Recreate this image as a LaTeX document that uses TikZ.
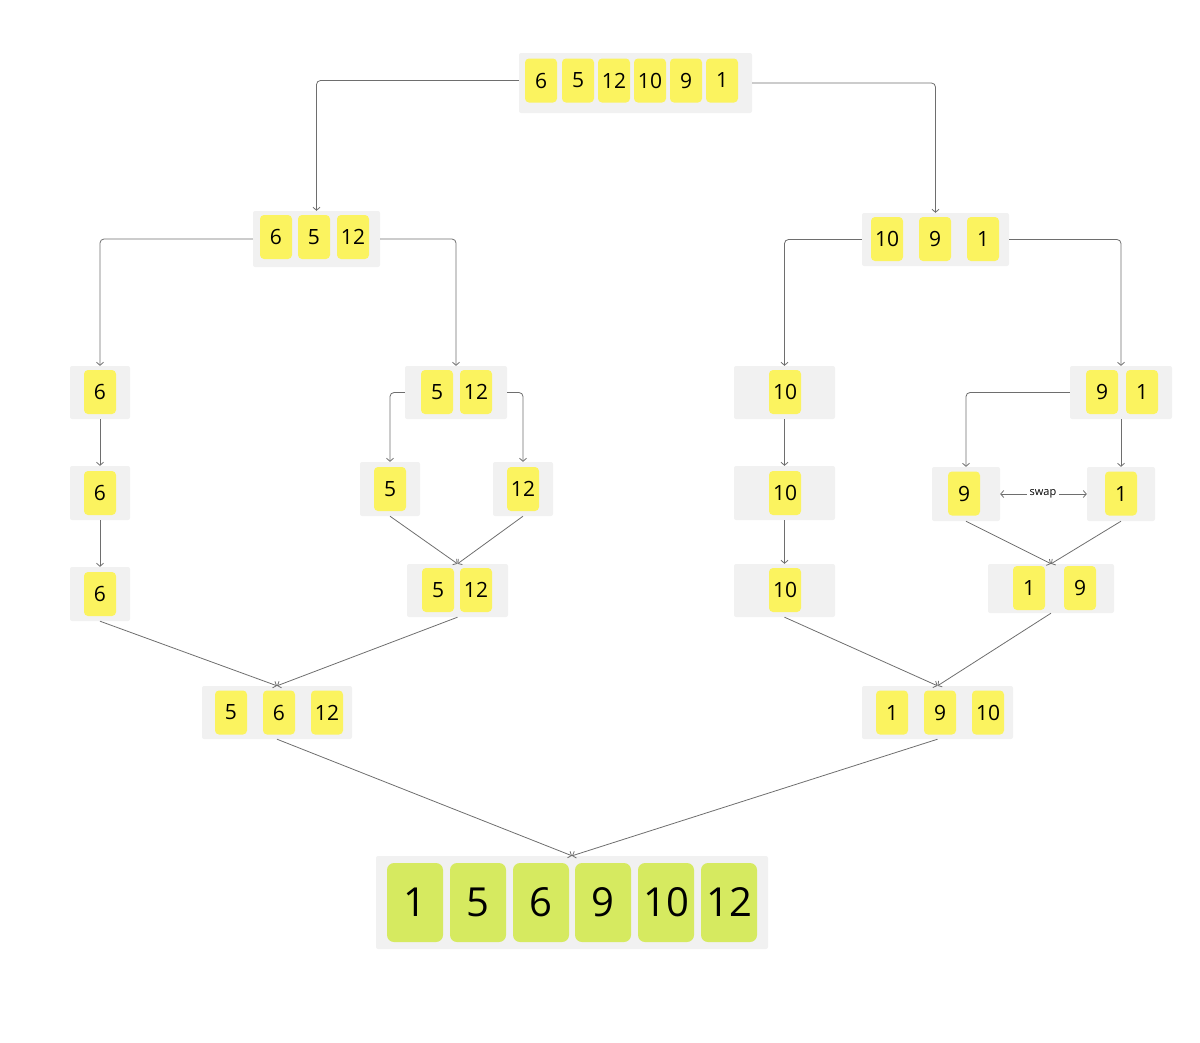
\documentclass[tikz,border=0pt]{standalone}
\usepackage{fontspec}
\setmainfont{Open Sans}
\usetikzlibrary{arrows.meta}
\definecolor{bgc}{HTML}{F1F1F1}
\definecolor{ycell}{HTML}{FBF35F}
\definecolor{gcell}{HTML}{D6EA60}
\definecolor{ln}{HTML}{6E6E6E}
\begin{document}
\begin{tikzpicture}[x=1pt,y=-1pt,
  box/.style={fill=bgc, rounded corners=2pt, inner sep=0pt},
  cell/.style={fill=ycell, rounded corners=4pt, minimum width=32pt, minimum height=44pt, inner sep=0pt, font=\fontsize{21}{21}\selectfont},
  bigcell/.style={cell, fill=gcell, minimum width=56pt, minimum height=79pt, rounded corners=7pt, font=\fontsize{40}{40}\selectfont},
  conn/.style={draw=ln, line width=0.8pt, -{Straight Barb[length=3pt,width=7pt]}},
  elbow/.style={conn, rounded corners=4pt},
  swaptxt/.style={font=\fontsize{11}{11}\selectfont, inner sep=2.5pt}]
\useasboundingbox (0,0) rectangle (1200,1042);
% containers
\node[box, minimum width=233pt, minimum height=60pt] (top) at (635.5,83) {};
\node[box, minimum width=127pt, minimum height=56pt] (l2a) at (316.5,239) {};
\node[box, minimum width=147pt, minimum height=53pt] (l2b) at (935.5,239.5) {};
\node[box, minimum width=60pt, minimum height=53pt] (l3a) at (100,392.5) {};
\node[box, minimum width=102pt, minimum height=53pt] (l3b) at (456,392.5) {};
\node[box, minimum width=101pt, minimum height=53pt] (l3c) at (784.5,392.5) {};
\node[box, minimum width=102pt, minimum height=53pt] (l3d) at (1121,392.5) {};
\node[box, minimum width=60pt, minimum height=54pt] (l4a) at (100,493) {};
\node[box, minimum width=60pt, minimum height=54pt] (l4b) at (390,489) {};
\node[box, minimum width=60pt, minimum height=54pt] (l4c) at (523,489) {};
\node[box, minimum width=101pt, minimum height=54pt] (l4d) at (784.5,493) {};
\node[box, minimum width=68pt, minimum height=54pt] (l4e) at (966,494) {};
\node[box, minimum width=68pt, minimum height=54pt] (l4f) at (1121,494) {};
\node[box, minimum width=60pt, minimum height=54pt] (l5a) at (100,594) {};
\node[box, minimum width=101pt, minimum height=53pt] (l5b) at (457.5,590.5) {};
\node[box, minimum width=101pt, minimum height=53pt] (l5c) at (784.5,590.5) {};
\node[box, minimum width=126pt, minimum height=49pt] (l5d) at (1051,588.5) {};
\node[box, minimum width=150pt, minimum height=53pt] (l6a) at (277,712.5) {};
\node[box, minimum width=151pt, minimum height=53pt] (l6b) at (937.5,712.5) {};
\node[box, minimum width=392pt, minimum height=93pt] (fin) at (572,902.5) {};
% cells
\foreach \x/\t [count=\i] in {541/6,578/5,614/12,650/10,686/9,722/1}
  \node[cell] (t\i) at (\x,80.5) {\t};
\foreach \x/\t [count=\i] in {276/6,314/5,353/12}
  \node[cell] (a\i) at (\x,237) {\t};
\foreach \x/\t [count=\i] in {887/10,935/9,983/1}
  \node[cell] (b\i) at (\x,239) {\t};
\node[cell] (c1) at (100,392) {6};
\node[cell] (d1) at (437,392) {5};
\node[cell] (d2) at (476,392) {12};
\node[cell] (e1) at (785,392) {10};
\node[cell] (f1) at (1102,392) {9};
\node[cell] (f2) at (1142,392) {1};
\node[cell] (g1) at (100,493) {6};
\node[cell] (h1) at (390,489) {5};
\node[cell] (i1) at (523,489) {12};
\node[cell] (j1) at (785,493) {10};
\node[cell] (k1) at (964,493.5) {9};
\node[cell] (m1) at (1121,493.5) {1};
\node[cell] (n1) at (100,594) {6};
\node[cell] (o1) at (438,590) {5};
\node[cell] (o2) at (476,590) {12};
\node[cell] (p1) at (785,590) {10};
\node[cell] (q1) at (1029,588) {1};
\node[cell] (q2) at (1080,588) {9};
\foreach \x/\t [count=\i] in {231/5,279/6,327/12}
  \node[cell] (r\i) at (\x,712.5) {\t};
\foreach \x/\t [count=\i] in {892/1,940/9,988/10}
  \node[cell] (s\i) at (\x,712.5) {\t};
\foreach \x/\t [count=\i] in {415/1,478/5,541/6,603/9,666/10,729/12}
  \node[bigcell] (u\i) at (\x,902.5) {\t};
% connectors
\draw[elbow] ([yshift=2.5pt]top.west) -| (l2a.north);
\draw[elbow] (top.east) -| (l2b.north);
\draw[elbow] (l2a.west) -| (l3a.north);
\draw[elbow] (l2a.east) -| (l3b.north);
\draw[elbow] (l2b.west) -| (l3c.north);
\draw[elbow] (l2b.east) -| (l3d.north);
\draw[conn] (l3a.south) -- (l4a.north);
\draw[elbow] (l3b.west) -| (l4b.north);
\draw[elbow] (l3b.east) -| (l4c.north);
\draw[conn] (l3c.south) -- (l4d.north);
\draw[elbow] (l3d.west) -| (l4e.north);
\draw[conn] (l3d.south) -- (l4f.north);
\draw[conn] (l4a.south) -- (l5a.north);
\draw[conn] (l4b.south) -- (l5b.north);
\draw[conn] (l4c.south) -- (l5b.north);
\draw[conn] (l4d.south) -- (l5c.north);
\draw[conn] (l4e.south) -- (l5d.north);
\draw[conn] (l4f.south) -- (l5d.north);
\draw[conn] (l5a.south) -- (l6a.north);
\draw[conn] (l5b.south) -- (l6a.north);
\draw[conn] (l5c.south) -- (l6b.north);
\draw[conn] (l5d.south) -- (l6b.north);
\draw[conn] (l6a.south) -- (fin.north);
\draw[conn] (l6b.south) -- (fin.north);
\node[swaptxt] (swap) at (1043,494) {swap};
\draw[conn] (swap.west) -- (l4e.east);
\draw[conn] (swap.east) -- (l4f.west);
\end{tikzpicture}
\end{document}
